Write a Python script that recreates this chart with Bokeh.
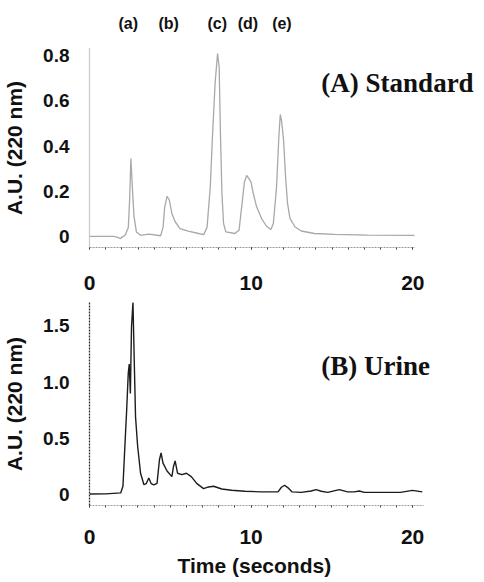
from bokeh.plotting import figure
from bokeh.layouts import column
from bokeh.models import FixedTicker, Label, Range1d, Title
from bokeh.core.properties import value
from bokeh.embed import file_html
from bokeh.resources import INLINE

# ---- (A) Standard mixture: time (s) vs absorbance (A.U. at 220 nm)
std_time = [0.0, 0.8, 1.5, 1.8, 1.9, 2.0, 2.2, 2.4, 2.48, 2.56, 2.65, 2.75, 2.9,
            3.16, 3.67, 4.4, 4.55, 4.65, 4.8, 4.94, 5.1, 5.3, 5.6, 6.1, 6.75,
            7.06, 7.27, 7.47, 7.61, 7.77, 7.92, 8.02, 8.1, 8.19, 8.29, 8.43,
            9.0, 9.25, 9.41, 9.58, 9.72, 9.86, 9.99, 10.13, 10.34, 10.65,
            10.95, 11.22, 11.37, 11.57, 11.71, 11.8, 11.88, 12.0, 12.13,
            12.25, 12.4, 12.7, 13.1, 13.9, 15.15, 17.2, 20.1]
std_abs = [0.0, 0.0, 0.0, -0.005, -0.01, -0.004, 0.005, 0.04, 0.16, 0.345, 0.22,
           0.09, 0.02, 0.005, 0.01, 0.003, 0.04, 0.13, 0.178, 0.16, 0.10,
           0.065, 0.035, 0.024, 0.013, 0.008, 0.04, 0.22, 0.45, 0.68, 0.81,
           0.75, 0.45, 0.19, 0.058, 0.02, 0.013, 0.028, 0.13, 0.24, 0.27,
           0.256, 0.24, 0.19, 0.13, 0.078, 0.045, 0.031, 0.057, 0.22, 0.44,
           0.54, 0.51, 0.43, 0.26, 0.145, 0.08, 0.043, 0.024, 0.013, 0.009,
           0.006, 0.005]

# ---- (B) Urine sample
urine_time = [0.0, 1.0, 1.93, 2.07, 2.19, 2.3, 2.4, 2.46, 2.53, 2.6, 2.69, 2.77,
              2.85, 2.98, 3.16, 3.37, 3.51, 3.67, 3.82, 3.98, 4.18, 4.33, 4.43,
              4.55, 4.8, 5.1, 5.2, 5.3, 5.45, 5.72, 6.0, 6.3, 6.65, 7.06, 7.37,
              7.68, 8.19, 8.8, 9.62, 10.65, 11.26, 11.67, 11.88, 12.08, 12.29,
              12.54, 13.1, 13.72, 14.03, 14.34, 14.75, 15.46, 15.98, 16.39,
              16.7, 17.0, 18.2, 19.26, 19.98, 20.6]
urine_abs = [0.005, 0.006, 0.015, 0.074, 0.43, 0.75, 1.08, 1.16, 0.90, 1.49,
             1.71, 1.19, 0.69, 0.43, 0.19, 0.088, 0.097, 0.147, 0.097, 0.086,
             0.10, 0.31, 0.37, 0.28, 0.21, 0.16, 0.25, 0.30, 0.19, 0.177, 0.19,
             0.16, 0.097, 0.053, 0.068, 0.074, 0.05, 0.038, 0.03, 0.024, 0.024,
             0.024, 0.065, 0.083, 0.06, 0.024, 0.02, 0.032, 0.044, 0.03, 0.02,
             0.044, 0.024, 0.024, 0.032, 0.02, 0.02, 0.02, 0.038, 0.024]

# ---- tick values / labels
x_ticks = [0, 10, 20]
x_minor = list(range(0, 21))
std_y_ticks = [0, 0.2, 0.4, 0.6, 0.8]
std_y_labels = ["0", "0.2", "0.4", "0.6", "0.8"]
urine_y_ticks = [0, 0.5, 1.0, 1.5]
urine_y_labels = ["0", "0.5", "1.0", "1.5"]

# peak identifiers above the standard trace
peak_names = ["(a)", "(b)", "(c)", "(d)", "(e)"]
peak_times = [2.4, 4.9, 7.9, 9.8, 11.9]

SANS = "Liberation Sans"
SERIF = "Liberation Serif"
INK = "#111111"


def style_axes(p, x_bounds, y_bounds, y_ticks, y_labels, y_color, y_dash, x_color):
    p.xgrid.visible = False
    p.ygrid.visible = False
    p.outline_line_color = None
    xa = p.xaxis[0]
    xa.bounds = x_bounds
    xa.ticker = FixedTicker(ticks=x_ticks, minor_ticks=x_minor)
    xa.axis_line_color = x_color
    xa.axis_line_dash = "2 1"
    xa.axis_line_width = 1.2
    xa.major_tick_line_color = "#444444"
    xa.minor_tick_line_color = "#444444"
    xa.major_tick_in = 0
    xa.major_tick_out = 2
    xa.minor_tick_in = 0
    xa.minor_tick_out = 2
    xa.major_label_text_font = SANS
    xa.major_label_text_font_style = "bold"
    xa.major_label_text_font_size = "21px"
    xa.major_label_text_color = INK

    ya = p.yaxis[0]
    ya.bounds = y_bounds
    ya.ticker = FixedTicker(ticks=y_ticks, minor_ticks=[])
    ya.major_label_overrides = {t: l for t, l in zip(y_ticks, y_labels)}
    ya.axis_line_color = y_color
    ya.axis_line_dash = y_dash
    ya.axis_line_width = 1.3
    ya.major_tick_line_color = None
    ya.minor_tick_line_color = None
    ya.major_label_standoff = 14
    ya.major_label_text_font = SANS
    ya.major_label_text_font_style = "bold"
    ya.major_label_text_font_size = "19px"
    ya.major_label_text_color = INK
    ya.axis_label = "A.U. (220 nm)"
    ya.axis_label_text_font = SANS
    ya.axis_label_text_font_style = "bold"
    ya.axis_label_text_font_size = "21px"
    ya.axis_label_text_color = INK
    ya.axis_label_standoff = 14


# shared time axis for the standard trace and the peak-name strip above it
std_x = Range1d(0, 24.43)

# ---- strip of peak names above the standard trace
head = figure(width=484, height=38, output_backend="svg", toolbar_location=None,
              x_range=std_x, y_range=Range1d(0, 1),
              x_axis_type=None, y_axis_type=None,
              min_border_left=87, min_border_right=0,
              min_border_top=0, min_border_bottom=0)
head.outline_line_color = None
head.xgrid.visible = False
head.ygrid.visible = False
head.text(x=peak_times, y=[0.4] * len(peak_times), text=peak_names,
          text_align="center", text_baseline="middle", text_font=value(SANS),
          text_font_style="bold", text_font_size="16px", text_color=INK)

# ---- top panel: standard
p1 = figure(width=484, height=262, output_backend="svg", toolbar_location=None,
            x_range=std_x, y_range=Range1d(-0.049, 0.832),
            min_border_left=87, min_border_right=0,
            min_border_top=10, min_border_bottom=53)
style_axes(p1, (0, 20.1), (-0.049, 0.832), std_y_ticks, std_y_labels,
           "#9a9a9a", "1 1", "#9a9a9a")
p1.xaxis[0].major_label_standoff = 26
p1.line(std_time, std_abs, line_color="#a8a8a8", line_width=1.3)
p1.add_layout(Label(x=14.34, y=0.68, text="(A) Standard", text_align="left",
                    text_baseline="middle", text_font=SERIF,
                    text_font_style="bold", text_font_size="27px",
                    text_color=INK))

# ---- bottom panel: urine
p2 = figure(width=484, height=282, output_backend="svg", toolbar_location=None,
            x_range=Range1d(0, 24.45), y_range=Range1d(-0.097, 1.708),
            min_border_left=87, min_border_right=0,
            min_border_top=2, min_border_bottom=76)
style_axes(p2, (0, 20.7), (-0.097, 1.708), urine_y_ticks, urine_y_labels,
           "#333333", "2 1", "#a0a0a0")
p2.xaxis[0].major_label_standoff = 22
p2.line(urine_time, urine_abs, line_color="#1c1c1c", line_width=1.4)
p2.add_layout(Label(x=14.34, y=1.14, text="(B) Urine", text_align="left",
                    text_baseline="middle", text_font=SERIF,
                    text_font_style="bold", text_font_size="27px",
                    text_color=INK))
p2.add_layout(Title(text="Time (seconds)", align="left", offset=88,
                    text_font=SANS, text_font_style="bold",
                    text_font_size="21px", text_color=INK,
                    standoff=11), "below")

layout = column(head, p1, p2, spacing=0)
open("out.html", "w").write(file_html(layout, INLINE))
